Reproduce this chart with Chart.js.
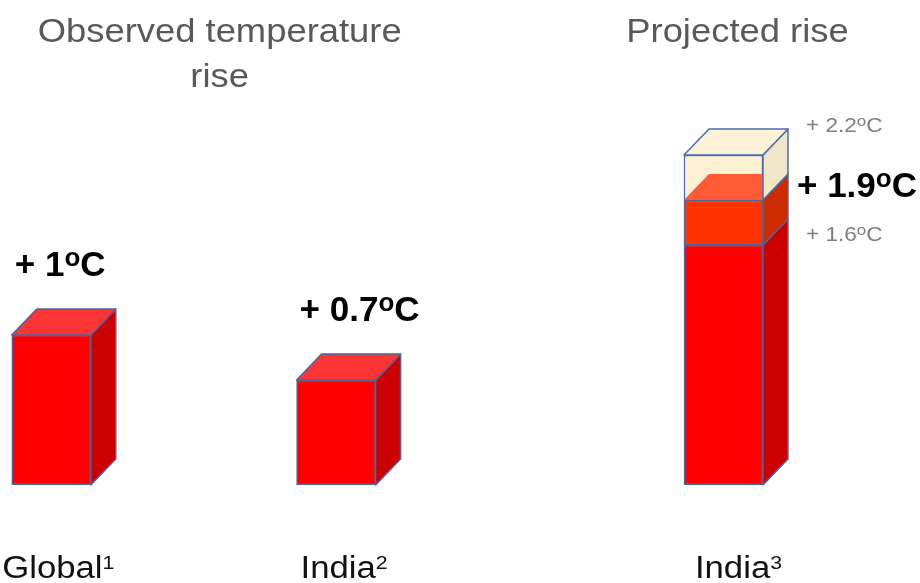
<!DOCTYPE html>
<html>
<head>
<meta charset="utf-8">
<script src="https://cdn.jsdelivr.net/npm/chart.js@4/dist/chart.umd.min.js"></script>
<style>
  html, body { margin: 0; padding: 0; background: #ffffff; }
  #wrap { position: relative; width: 920px; height: 583px; }
</style>
</head>
<body>
<div id="wrap"><canvas id="chart" width="920" height="583"></canvas></div>
<script>
// Temperature rise in degrees C
const categories = ['Global', 'India', 'India'];
const footnotes = ['1', '2', '3'];
const observedRise = [1.0, 0.7];          // observed: Global, India
const projectedRise = [1.6, 1.9, 2.2];    // projected for India: low, central, high
const panelTitles = [['Observed temperature', 'rise'], ['Projected rise']];

// ---- layout / style ----
const SLOT = [0, 1, 2.36];          // x-scale position of each column
const DX = 25, DY = 26;             // depth offset of the 3D boxes
const BAR_W = 79;
const EDGE = '#4f6499';
const EDGE_LIGHT = '#4a6cb0';
const FONT = '"Liberation Sans", Arial, sans-serif';

const faces = {
  red:   { front: '#ff0000', top: '#ff3535', side: '#cc0000', edge: EDGE },
  low:   { front: '#ff0000', top: null,      side: '#cc0000', edge: EDGE },
  mid:   { front: '#ff3300', top: '#ff5a33', side: '#cc2c00', edge: EDGE, noTopStroke: true },
  high:  { front: '#fdf0d3', top: '#fdf2d8', side: '#f1e6c8', edge: EDGE_LIGHT }
};

function barDataset(label, data, f) {
  return {
    label, data,
    backgroundColor: f.front,
    borderColor: f.edge,
    borderWidth: 1.5,
    borderSkipped: false,
    grouped: false,
    barThickness: BAR_W,
    faces: f
  };
}

const datasets = [
  barDataset('Observed', observedRise.map((v, i) => ({ x: SLOT[i], y: v })), faces.red),
  barDataset('Projected low', [{ x: SLOT[2], y: [0, projectedRise[0]] }], faces.low),
  barDataset('Projected central', [{ x: SLOT[2], y: [projectedRise[0], projectedRise[1]] }], faces.mid),
  barDataset('Projected high', [{ x: SLOT[2], y: [projectedRise[1], projectedRise[2]] }], faces.high)
];

function poly(ctx, pts, fill, stroke) {
  ctx.beginPath();
  ctx.moveTo(pts[0][0], pts[0][1]);
  for (let i = 1; i < pts.length; i++) ctx.lineTo(pts[i][0], pts[i][1]);
  ctx.closePath();
  if (fill) { ctx.fillStyle = fill; ctx.fill(); }
  if (stroke) { ctx.strokeStyle = stroke; ctx.stroke(); }
}

// Side and top faces for each bar, giving the box look
const boxFaces = {
  id: 'boxFaces',
  afterDatasetsDraw(chart) {
    const ctx = chart.ctx;
    ctx.save();
    ctx.lineWidth = 1.5;
    ctx.lineJoin = 'round';
    chart.data.datasets.forEach((ds, di) => {
      const f = ds.faces;
      chart.getDatasetMeta(di).data.forEach(bar => {
        const p = bar.getProps(['x', 'y', 'base', 'width'], true);
        const l = p.x - p.width / 2, r = p.x + p.width / 2;
        const top = Math.min(p.y, p.base), bot = Math.max(p.y, p.base);
        poly(ctx, [[r, bot], [r + DX, bot - DY], [r + DX, top - DY], [r, top]], f.side, f.edge);
        if (f.top) {
          poly(ctx, [[l, top], [l + DX, top - DY], [r + DX, top - DY], [r, top]], f.top,
               f.noTopStroke ? null : f.edge);
        }
      });
    });
    ctx.restore();
  }
};

// Draws a run of text pieces, each with its own font, baseline shift and width factor
function richText(ctx, parts, x, y, align, sx) {
  sx = sx || 1;
  let w = 0;
  parts.forEach(p => { ctx.font = p.font; p.w = ctx.measureText(p.t).width * sx; w += p.w; });
  let cx = align === 'center' ? x - w / 2 : x;
  parts.forEach(p => {
    ctx.save();
    ctx.font = p.font;
    ctx.fillStyle = p.color;
    ctx.textAlign = 'left';
    ctx.textBaseline = 'alphabetic';
    ctx.translate(cx, y + (p.dy || 0));
    ctx.scale(sx, 1);
    ctx.fillText(p.t, 0, 0);
    ctx.restore();
    cx += p.w;
  });
}

function degreeParts(value, size, bold, color) {
  const wt = bold ? 'bold ' : '';
  return [
    { t: '+ ' + value, font: `${wt}${size}px ${FONT}`, color },
    { t: 'o', font: `${wt}${Math.round(size * 0.74)}px ${FONT}`, color, dy: -Math.round(size * 0.29) },
    { t: 'C', font: `${wt}${size}px ${FONT}`, color }
  ];
}

const annotations = {
  id: 'annotations',
  afterDraw(chart) {
    const ctx = chart.ctx;
    const xs = chart.scales.x, ys = chart.scales.y;
    const px = i => xs.getPixelForValue(SLOT[i]);
    const half = BAR_W / 2;
    ctx.save();

    // panel titles
    const leftMid = (px(0) + px(1)) / 2 + 26;
    panelTitles[0].forEach((line, i) =>
      richText(ctx, [{ t: line, font: `34px ${FONT}`, color: '#595959' }], leftMid, 42 + i * 45, 'center', 1.07));
    richText(ctx, [{ t: panelTitles[1][0], font: `34px ${FONT}`, color: '#595959' }], px(2) + 14, 42, 'center', 1.07);

    // observed value labels
    observedRise.forEach((v, i) => {
      const left = px(i) - half + 3;
      const backTop = ys.getPixelForValue(v) - DY;
      richText(ctx, degreeParts(v === 1 ? '1' : v.toFixed(1), 35, true, '#000'), left, backTop - 33, 'left');
    });

    // projected value labels
    const pr = px(2) + half + DX;
    richText(ctx, degreeParts(projectedRise[2].toFixed(1), 20, false, '#7f7f7f'),
             pr + 18, ys.getPixelForValue(projectedRise[2]) - DY + 3, 'left', 1.13);
    richText(ctx, degreeParts(projectedRise[1].toFixed(1), 35, true, '#000'),
             pr + 9, ys.getPixelForValue(projectedRise[1]) - DY + 23, 'left');
    richText(ctx, degreeParts(projectedRise[0].toFixed(1), 20, false, '#7f7f7f'),
             pr + 18, ys.getPixelForValue(projectedRise[0]) - 4, 'left', 1.13);

    // category labels with footnote markers
    const shift = [7, 8, 15];
    categories.forEach((c, i) => {
      richText(ctx, [
        { t: c, font: `31px ${FONT}`, color: '#111' },
        { t: footnotes[i], font: `19px ${FONT}`, color: '#111', dy: -9 }
      ], px(i) + shift[i], 578, 'center', 1.12);
    });
    ctx.restore();
  }
};

new Chart(document.getElementById('chart'), {
  type: 'bar',
  data: { datasets },
  options: {
    responsive: false,
    animation: false,
    layout: { padding: { top: 35, bottom: 98, left: 0, right: 0 } },
    plugins: { legend: { display: false }, tooltip: { enabled: false }, title: { display: false } },
    scales: {
      x: { type: 'linear', offset: false, min: -0.18, max: 3.05, display: false },
      y: { type: 'linear', min: 0, max: 3, display: false }
    }
  },
  plugins: [boxFaces, annotations]
});
</script>
</body>
</html>
